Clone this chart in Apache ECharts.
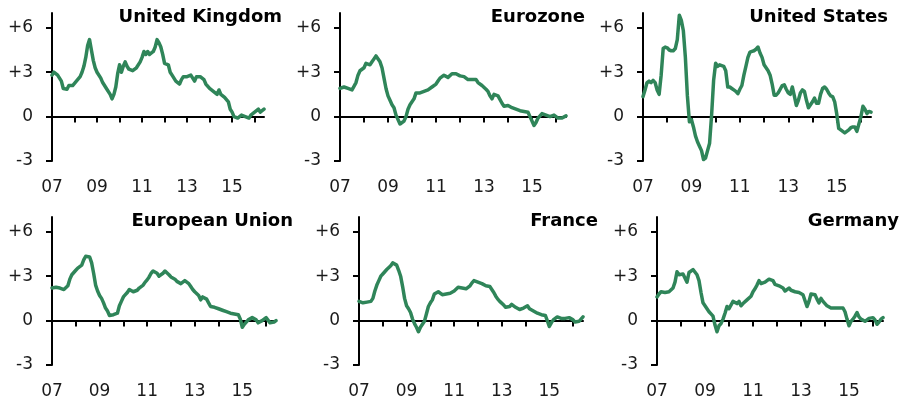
<!DOCTYPE html>
<html>
<head>
<meta charset="utf-8">
<script src="https://cdn.jsdelivr.net/npm/echarts@6/dist/echarts.min.js"></script>
<style>
  html, body { margin: 0; padding: 0; background: #fff; }
  #chart { width: 903px; height: 403px; }
</style>
</head>
<body>
<div id="chart"></div>
<script>
// monthly values, Jan 2007 .. Jun 2016
const ukValues = [
  2.8, 3.0, 3.1, 2.8, 2.6, 2.4, 1.9, 1.8, 1.85, 2.1,
  2.1, 2.1, 2.2, 2.4, 2.5, 2.7, 3.0, 3.4, 4.0, 4.8,
  5.2, 4.5, 3.8, 3.3, 3.0, 3.1, 2.6, 2.3, 2.1, 1.9,
  1.8, 1.5, 1.2, 1.5, 2.0, 2.9, 3.5, 3.0, 3.4, 3.7,
  3.4, 3.2, 3.1, 3.1, 3.1, 3.3, 3.3, 3.7, 4.0, 4.4,
  4.2, 4.4, 4.2, 4.3, 4.4, 4.7, 5.2, 5.0, 4.7, 4.2,
  3.6, 3.5, 3.5, 3.0, 2.8, 2.6, 2.4, 2.5, 2.2, 2.5,
  2.7, 2.7, 2.7, 2.8, 2.8, 2.7, 2.4, 2.7, 2.8, 2.7,
  2.7, 2.5, 2.2, 2.1, 1.9, 1.8, 1.7, 1.6, 1.5, 1.8,
  1.5, 1.6, 1.3, 1.2, 1.0, 0.5, 0.3, 0.0, 0.0, -0.1,
  0.0, 0.1, 0.0, 0.0, -0.1, -0.1, 0.1, 0.2, 0.3, 0.3,
  0.5, 0.3, 0.3, 0.5
];
const eurozoneValues = [
  1.9, 2.0, 2.0, 1.95, 1.9, 1.9, 1.8, 1.8, 2.3, 2.8,
  3.1, 3.15, 3.3, 3.6, 3.6, 3.5, 3.7, 3.9, 4.1, 4.0,
  3.7, 3.3, 2.6, 1.9, 1.4, 1.1, 0.8, 0.6, 0.1, -0.2,
  -0.5, -0.4, -0.3, 0.0, 0.5, 0.8, 0.9, 1.2, 1.6, 1.7,
  1.6, 1.6, 1.7, 1.7, 1.8, 1.9, 2.0, 2.1, 2.2, 2.4,
  2.6, 2.7, 2.8, 2.7, 2.65, 2.6, 2.9, 3.0, 2.9, 2.8,
  2.75, 2.7, 2.7, 2.6, 2.5, 2.5, 2.5, 2.6, 2.5, 2.3,
  2.3, 2.1, 2.0, 1.85, 1.7, 1.4, 1.2, 1.5, 1.6, 1.4,
  1.3, 0.9, 0.7, 0.75, 0.75, 0.7, 0.6, 0.5, 0.5, 0.4,
  0.4, 0.3, 0.35, 0.3, 0.3, 0.0, -0.3, -0.6, -0.4, -0.1,
  0.0, 0.2, 0.15, 0.1, 0.0, 0.0, 0.1, 0.1, 0.2, -0.1,
  -0.2, -0.1, -0.1, 0.05
];
const usValues = [
  1.35, 1.8, 2.3, 2.4, 2.3, 2.45, 2.3, 1.8, 1.5, 2.8,
  4.6, 4.7, 4.65, 4.5, 4.45, 4.45, 4.6, 5.2, 6.85, 6.5,
  5.8, 4.0, 1.4, -0.35, -0.2, -0.7, -1.3, -1.7, -2.0, -2.3,
  -2.9, -2.8, -2.3, -1.8, 0.1, 2.45, 3.6, 3.4, 3.5, 3.45,
  3.4, 3.1, 2.0, 2.0, 1.9, 1.8, 1.7, 1.55, 1.85, 2.1,
  2.8, 3.4, 4.0, 4.35, 4.4, 4.45, 4.55, 4.7, 4.3, 4.0,
  3.5, 3.3, 3.1, 2.8, 2.2, 1.45, 1.45, 1.6, 1.85, 2.1,
  2.15, 1.85, 1.6, 1.5, 2.0, 1.4, 0.75, 1.1, 1.6, 1.8,
  1.7, 1.1, 0.6, 0.8, 1.0, 1.25, 0.9, 0.9, 1.5, 1.9,
  2.0, 1.85, 1.6, 1.4, 1.35, 1.0, 0.2, -0.8, -0.9, -1.0,
  -1.1, -1.0, -0.9, -0.75, -0.7, -0.7, -1.0, -0.5, 0.0, 0.7,
  0.5, 0.2, 0.35, 0.3
];
const euValues = [
  2.2, 2.3, 2.25, 2.2, 2.2, 2.15, 2.1, 2.0, 2.35, 2.8,
  3.1, 3.25, 3.4, 3.55, 3.65, 3.75, 4.1, 4.35, 4.45, 4.3,
  3.9, 3.2, 2.4, 2.0, 1.7, 1.5, 1.2, 0.85, 0.65, 0.35,
  0.25, 0.4, 0.35, 0.5, 1.0, 1.3, 1.6, 1.75, 1.9, 2.1,
  2.05, 1.95, 2.0, 2.05, 2.2, 2.3, 2.4, 2.6, 2.75, 2.95,
  3.2, 3.35, 3.3, 3.2, 3.0, 2.9, 3.2, 3.35, 3.3, 3.1,
  2.95, 2.9, 2.8, 2.65, 2.6, 2.5, 2.6, 2.7, 2.65, 2.5,
  2.3, 2.1, 1.95, 1.85, 1.7, 1.4, 1.6, 1.6, 1.45, 1.2,
  0.95, 0.95, 0.9, 0.85, 0.8, 0.7, 0.7, 0.65, 0.6, 0.55,
  0.5, 0.5, 0.45, 0.45, 0.4, 0.1, -0.45, -0.25, -0.1, 0.05,
  0.15, 0.2, 0.1, 0.05, -0.15, -0.05, 0.0, 0.1, 0.2, 0.2,
  -0.15, -0.2, -0.1, 0.0
];
const franceValues = [
  1.3, 1.25, 1.2, 1.3, 1.25, 1.3, 1.3, 1.5, 2.0, 2.4,
  2.7, 3.0, 3.15, 3.3, 3.45, 3.5, 3.7, 3.9, 3.95, 3.75,
  3.4, 3.0, 2.3, 1.5, 1.0, 0.8, 0.55, 0.1, -0.2, -0.45,
  -0.75, -0.45, -0.25, -0.05, 0.45, 0.95, 1.2, 1.4, 1.8, 1.9,
  1.95, 1.85, 1.75, 1.75, 1.8, 1.85, 1.85, 1.9, 2.0, 2.1,
  2.25, 2.2, 2.2, 2.25, 2.15, 2.2, 2.35, 2.55, 2.7, 2.65,
  2.6, 2.55, 2.5, 2.4, 2.35, 2.3, 2.3, 2.2, 1.9, 1.65,
  1.45, 1.3, 1.2, 1.05, 0.9, 0.85, 0.95, 1.1, 1.1, 0.9,
  0.8, 0.75, 0.8, 0.85, 0.9, 1.0, 0.8, 0.7, 0.65, 0.55,
  0.5, 0.45, 0.4, 0.45, 0.35, 0.0, -0.4, -0.15, 0.05, 0.15,
  0.25, 0.25, 0.15, 0.1, 0.15, 0.15, 0.2, 0.25, 0.05, -0.1,
  -0.15, -0.05, 0.05, 0.25
];
const germanyValues = [
  1.6, 1.8, 1.95, 2.05, 1.9, 1.95, 1.95, 1.9, 2.2, 2.6,
  3.3, 3.1, 3.0, 3.15, 3.2, 2.6, 3.25, 3.3, 3.45, 3.4,
  3.1, 2.7, 1.9, 1.2, 1.0, 0.95, 0.6, 0.45, 0.3, -0.3,
  -0.75, -0.35, -0.2, 0.1, 0.5, 0.95, 0.8, 0.9, 1.3, 1.3,
  1.15, 1.3, 1.0, 1.15, 1.25, 1.4, 1.5, 1.65, 1.95, 2.15,
  2.4, 2.7, 2.5, 2.5, 2.6, 2.65, 2.8, 2.8, 2.7, 2.45,
  2.4, 2.35, 2.3, 2.2, 2.0, 2.1, 2.2, 2.05, 2.0, 1.95,
  1.95, 1.9, 1.8, 1.75, 1.75, 0.95, 1.3, 1.8, 1.9, 1.75,
  1.45, 1.2, 1.5, 1.3, 1.15, 1.0, 0.9, 0.85, 0.85, 0.85,
  0.85, 0.85, 0.85, 0.85, 0.6, 0.1, -0.35, -0.05, 0.1, 0.3,
  0.55, 0.25, 0.1, 0.0, -0.05, 0.05, 0.15, 0.25, 0.2, 0.05,
  -0.25, -0.1, 0.1, 0.2
];

const panelNames = ['United Kingdom', 'Eurozone', 'United States', 'European Union', 'France', 'Germany'];
const panelValues = [ukValues, eurozoneValues, usValues, euValues, franceValues, germanyValues];
const yTicks = [-3, 0, 3, 6];
const tickYears = [2007, 2008, 2009, 2010, 2011, 2012, 2013, 2014, 2015, 2016];
const labelYears = [2007, 2009, 2011, 2013, 2015];
const START_YEAR = 2007;

// layout of the six panels
const gridLeft = [52, 340, 643, 52, 359, 657];
const gridWidth = [212, 226, 228, 224, 224, 226];
const gridTop = [13, 13, 13, 217, 217, 217];
const titleRight = [621, 318, 15, 610, 305, 4];
const titleTop = [8, 8, 8, 212, 212, 212];

const GREEN = '#2f8559';
const FONT = 'DejaVu Sans';
const axisStyle = { color: '#000', width: 2 };

const chart = echarts.init(document.getElementById('chart'), null, { renderer: 'canvas' });

const xMax = START_YEAR + (ukValues.length - 1) / 12;
const option = { animation: false, backgroundColor: '#fff', title: [], grid: [], xAxis: [], yAxis: [], series: [] };

panelNames.forEach(function (name, i) {
  option.title.push({
    text: name, right: titleRight[i], top: titleTop[i], padding: 0,
    textStyle: { fontFamily: FONT, fontWeight: 'bold', fontSize: 18, color: '#000' }
  });
  option.grid.push({ left: gridLeft[i], top: gridTop[i], width: gridWidth[i], height: 148 });
  // axis line at zero with yearly ticks
  option.xAxis.push({
    gridIndex: i, type: 'value', min: START_YEAR, max: xMax, position: 'bottom',
    axisLine: { show: true, onZero: true, lineStyle: axisStyle },
    axisTick: { show: true, customValues: tickYears, length: 6, lineStyle: axisStyle },
    axisLabel: { show: false },
    splitLine: { show: false }
  });
  // year labels under the panel
  option.xAxis.push({
    gridIndex: i, type: 'value', min: START_YEAR, max: xMax, position: 'bottom',
    axisLine: { show: false, onZero: false },
    axisTick: { show: false },
    axisLabel: {
      customValues: labelYears, margin: 18, fontFamily: FONT, fontSize: 17, color: '#1a1a1a',
      formatter: function (v) { return String(Math.round(v) % 100).padStart(2, '0'); }
    },
    splitLine: { show: false }
  });
  option.yAxis.push({
    gridIndex: i, type: 'value', min: -3, max: 7,
    axisLine: { show: true, onZero: false, lineStyle: axisStyle },
    axisTick: { show: true, customValues: yTicks, length: 6, lineStyle: axisStyle },
    axisLabel: {
      customValues: yTicks, margin: 19, fontFamily: FONT, fontSize: 17, color: '#1a1a1a',
      formatter: function (v) { return v > 0 ? '+' + v : String(v); }
    },
    splitLine: { show: false }
  });
  option.series.push({
    type: 'line', name: name, xAxisIndex: 2 * i, yAxisIndex: i,
    data: panelValues[i].map(function (v, k) { return [START_YEAR + k / 12, v]; }),
    showSymbol: false, symbol: 'none',
    lineStyle: { color: GREEN, width: 3.5, join: 'round', cap: 'round' },
    itemStyle: { color: GREEN }
  });
});

chart.setOption(option);
</script>
</body>
</html>
